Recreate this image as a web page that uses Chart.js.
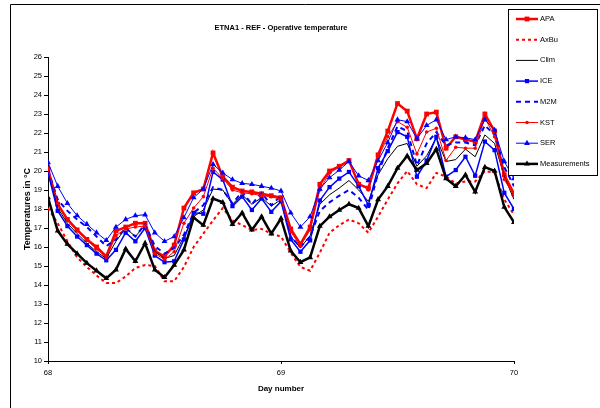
<!DOCTYPE html>
<html><head><meta charset="utf-8">
<script src="https://cdn.jsdelivr.net/npm/chart.js@4.4.1/dist/chart.umd.min.js"></script>
<style>html,body{margin:0;padding:0;background:#fff;}</style>
</head><body>
<canvas id="c" width="600" height="408" style="display:block;width:600px;height:408px"></canvas>
<script>
const chartTitle = 'ETNA1 - REF - Operative temperature';
const xTitle = 'Day number';
const yTitle = 'Temperatures in °C';
const startDay = 68;
const hours = [0,1,2,3,4,5,6,7,8,9,10,11,12,13,14,15,16,17,18,19,20,21,22,23,24,25,26,27,28,29,30,31,32,33,34,35,36,37,38,39,40,41,42,43,44,45,46,47,48];
const seriesNames = ['APA','AxBu','Clim','ICE','M2M','KST','SER','Measurements'];

const APA  = [20.1,18.25,17.45,16.9,16.4,16.0,15.5,16.85,17.05,17.25,17.25,15.8,15.5,16.1,18.05,18.85,19.05,20.95,19.7,19.15,18.95,18.9,18.8,18.7,18.6,16.95,16.15,17.05,19.3,20.0,20.25,20.55,19.3,19.1,20.85,22.1,23.55,23.15,21.7,23.0,23.1,21.2,21.8,21.65,21.55,23.0,22.1,19.8,18.8];
const AxBu = [18.05,17.25,16.3,15.45,14.95,14.5,14.1,14.1,14.45,14.9,15.05,15.0,14.2,14.2,14.95,16.0,16.7,17.4,18.05,17.4,17.15,16.9,16.95,16.7,16.55,15.7,14.95,14.75,15.7,16.75,17.15,17.45,17.25,16.75,17.6,18.5,19.35,20.0,19.3,19.1,19.9,19.7,19.35,19.45,19.45,20.0,19.9,18.5,17.7];
const Clim = [19.95,18.05,17.25,16.7,16.2,15.75,15.4,16.3,17.0,16.55,17.15,15.75,15.4,15.55,16.55,17.6,17.95,19.05,19.0,18.25,18.75,18.25,18.6,18.15,18.5,16.55,15.95,16.6,18.25,18.75,19.1,19.5,19.0,18.4,19.8,20.65,21.3,21.45,20.25,20.8,21.75,20.5,20.6,21.15,20.75,21.9,21.45,19.7,18.5];
const ICE  = [19.9,17.9,17.1,16.55,16.1,15.65,15.3,15.85,16.75,16.3,17.0,15.55,15.2,15.25,16.4,17.8,17.75,19.95,19.55,18.15,18.65,17.95,18.55,17.85,18.4,16.4,15.75,16.35,18.45,19.15,19.6,19.95,19.2,18.2,20.15,21.05,22.05,21.8,19.7,20.55,21.8,19.7,20.05,20.75,19.75,21.55,21.1,18.85,18.0];
const M2M  = [20.05,18.5,17.9,17.45,17.05,16.55,16.05,16.4,17.0,16.55,17.2,16.05,15.65,15.95,16.65,17.8,18.2,19.15,19.0,18.3,18.9,18.25,18.85,18.2,18.7,16.55,16.0,16.55,17.9,18.35,18.7,19.0,18.6,17.95,19.9,21.2,22.35,22.1,20.3,21.45,22.05,21.35,21.5,21.5,21.35,22.4,21.9,20.2,19.2];
const KST  = [20.15,18.3,17.4,16.85,16.35,15.9,15.45,16.6,16.95,17.05,17.1,15.65,15.35,15.75,17.25,18.05,18.65,20.15,19.6,19.0,18.85,18.8,18.7,18.65,18.5,16.8,16.05,16.9,19.0,19.9,20.2,20.5,19.35,19.0,20.7,21.8,22.6,22.3,20.9,22.05,22.25,20.55,21.25,21.2,21.2,22.8,21.8,19.55,18.7];
const SER  = [20.45,19.2,18.3,17.65,17.2,16.75,16.35,17.05,17.45,17.65,17.7,16.75,16.3,16.55,17.55,18.6,19.05,20.35,19.9,19.55,19.35,19.3,19.2,19.1,18.95,17.8,17.05,17.6,19.05,19.65,20.05,20.5,19.75,19.5,20.55,21.5,22.7,22.6,21.7,22.4,22.7,21.65,21.8,21.75,21.65,22.7,22.15,20.5,19.6];
const Measurements = [18.6,16.85,16.15,15.65,15.15,14.75,14.35,14.8,15.9,15.25,16.2,14.8,14.4,15.05,15.85,17.55,17.15,18.55,18.35,17.2,17.8,16.9,17.6,16.7,17.5,15.8,15.2,15.45,17.1,17.6,17.95,18.25,18.05,17.1,18.5,19.2,20.15,20.8,20.05,20.4,21.15,19.6,19.2,19.8,18.9,20.2,20.0,18.1,17.3];

const xTicks = [68, 69, 70];
const yMin = 10, yMax = 26;

const FONT = '"Liberation Sans", Arial, sans-serif';
const RED = '#FF0000', BLUE = '#0000FF', BLACK = '#000000';

function pts(vals){ return vals.map((v,i)=>({x: startDay + hours[i]/24, y: v})); }

const styles = {
  APA:  {borderColor: RED, backgroundColor: RED, borderWidth: 2.5, pointStyle: 'rect', pointRadius: 3.4},
  AxBu: {borderColor: RED, backgroundColor: RED, borderWidth: 2, borderDash: [3,3], pointRadius: 0},
  Clim: {borderColor: BLACK, backgroundColor: BLACK, borderWidth: 1, pointRadius: 0},
  ICE:  {borderColor: BLUE, backgroundColor: BLUE, borderWidth: 1.5, pointStyle: 'rect', pointRadius: 3},
  M2M:  {borderColor: BLUE, backgroundColor: BLUE, borderWidth: 2, borderDash: [5,4], pointRadius: 0},
  KST:  {borderColor: RED, backgroundColor: RED, borderWidth: 1, pointStyle: 'circle', pointRadius: 1.8},
  SER:  {borderColor: BLUE, backgroundColor: BLUE, borderWidth: 1, pointStyle: 'triangle', pointRadius: 3.4},
  Measurements: {borderColor: BLACK, backgroundColor: BLACK, borderWidth: 2.5, pointStyle: 'triangle', pointRadius: 3.4}
};
const valuesByName = {APA, AxBu, Clim, ICE, M2M, KST, SER, Measurements};

const datasets = seriesNames.map((n, k) => Object.assign({
  label: n,
  data: pts(valuesByName[n]),
  tension: 0,
  fill: false,
  pointBorderWidth: 0,
  pointHoverRadius: 0,
  order: seriesNames.length - 1 - k
}, styles[n]));

function drawMarker(ctx, style, x, y, r, color){
  ctx.fillStyle = color;
  ctx.beginPath();
  if (style === 'rect') {
    const s = r * Math.SQRT1_2;
    ctx.rect(x - s, y - s, 2*s, 2*s);
  } else if (style === 'triangle') {
    let a = 0;
    ctx.moveTo(x + Math.sin(a)*r, y - Math.cos(a)*r);
    a += 2*Math.PI/3; ctx.lineTo(x + Math.sin(a)*r, y - Math.cos(a)*r);
    a += 2*Math.PI/3; ctx.lineTo(x + Math.sin(a)*r, y - Math.cos(a)*r);
    ctx.closePath();
  } else {
    ctx.arc(x, y, r, 0, Math.PI*2);
  }
  ctx.fill();
}

const decor = {
  id: 'decor',
  afterDraw(chart){
    const ctx = chart.ctx, ca = chart.chartArea;
    ctx.save();
    ctx.strokeStyle = '#000'; ctx.lineWidth = 1; ctx.setLineDash([]);
    ctx.beginPath(); ctx.moveTo(10.5, 408); ctx.lineTo(10.5, 4.5); ctx.lineTo(600, 4.5); ctx.stroke();
    ctx.fillStyle = '#000';
    ctx.font = 'bold 7.5px ' + FONT;
    ctx.textAlign = 'center'; ctx.textBaseline = 'middle';
    ctx.fillText(chartTitle, (ca.left + ca.right)/2, 28);
    const bx = 508.5, by = 9.5, bw = 89, bh = 166;
    ctx.fillStyle = '#fff'; ctx.fillRect(bx, by, bw, bh);
    ctx.strokeStyle = '#000'; ctx.lineWidth = 1; ctx.strokeRect(bx, by, bw, bh);
    chart.data.datasets.forEach((ds, k) => {
      const y = 19 + k * 20.7;
      ctx.strokeStyle = ds.borderColor; ctx.lineWidth = ds.borderWidth;
      ctx.setLineDash(ds.borderDash || []);
      ctx.beginPath(); ctx.moveTo(516, y); ctx.lineTo(538, y); ctx.stroke();
      ctx.setLineDash([]);
      if (ds.pointRadius > 0) drawMarker(ctx, ds.pointStyle, 527, y, ds.pointRadius, ds.borderColor);
      ctx.fillStyle = '#000'; ctx.textAlign = 'left'; ctx.textBaseline = 'middle';
      ctx.font = '7.5px ' + FONT;
      ctx.fillText(ds.label, 540, y);
    });
    ctx.restore();
  }
};

new Chart(document.getElementById('c'), {
  type: 'line',
  data: { datasets },
  plugins: [decor],
  options: {
    responsive: false,
    animation: false,
    devicePixelRatio: 1,
    layout: { padding: { top: 57, right: 86, left: 0, bottom: 0 } },
    plugins: { legend: { display: false }, tooltip: { enabled: false }, title: { display: false } },
    scales: {
      x: {
        type: 'linear', min: 68, max: 70,
        afterBuildTicks: s => { s.ticks = xTicks.map(v => ({value: v})); },
        afterFit: s => { s.height = 47; },
        ticks: { color: '#000', font: { family: FONT, size: 7.5 }, padding: 4, maxRotation: 0 },
        grid: { drawOnChartArea: false, drawTicks: true, tickLength: 3, color: '#000' },
        border: { color: '#000', width: 1 },
        title: { display: true, text: xTitle, color: '#000', font: { family: FONT, size: 8, weight: 'bold' }, padding: { top: 0, bottom: 14 } }
      },
      y: {
        min: yMin, max: yMax,
        ticks: { stepSize: 1, color: '#000', font: { family: FONT, size: 7.5 }, padding: 2 },
        afterFit: s => { s.width = 48; },
        grid: { drawOnChartArea: false, drawTicks: true, tickLength: 4, color: '#000' },
        border: { color: '#000', width: 1 },
        title: { display: true, text: yTitle, color: '#000', font: { family: FONT, size: 9, weight: 'bold' }, padding: { top: 22.6, bottom: 0 } }
      }
    }
  }
});
</script>
</body></html>
